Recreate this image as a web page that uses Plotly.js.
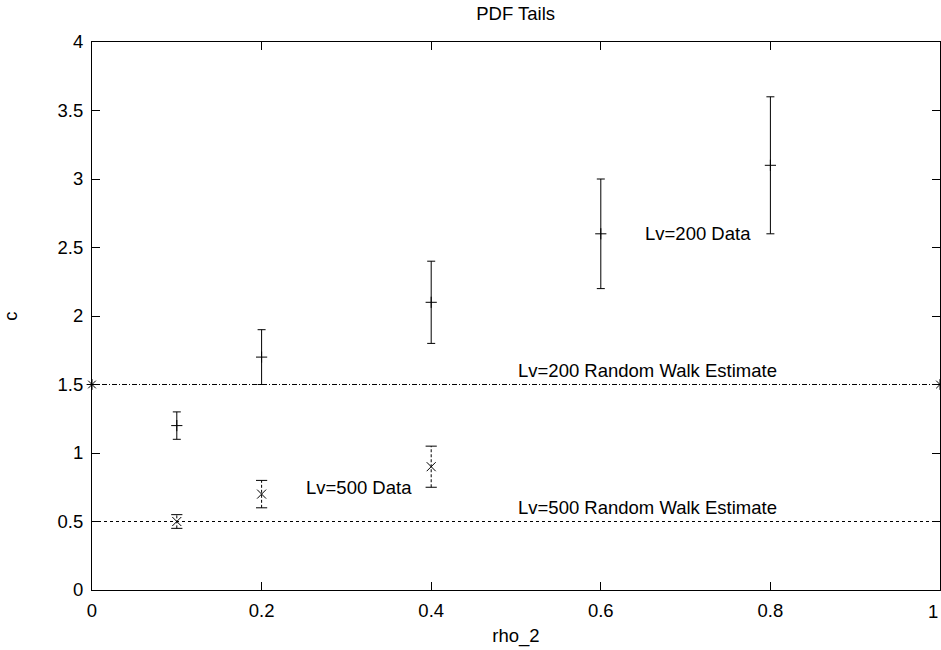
<!DOCTYPE html>
<html>
<head>
<meta charset="utf-8">
<script src="https://cdn.plot.ly/plotly-3.0.1.min.js"></script>
<style>html,body{margin:0;padding:0;background:#fff;}#chart{width:941px;height:650px;}</style>
</head>
<body>
<div id="chart"></div>
<script>
// Lv=200 data
var lv200X = [0.1, 0.2, 0.4, 0.6, 0.8];
var lv200Y = [1.2, 1.7, 2.1, 2.6, 3.1];
var lv200Err = [0.1, 0.2, 0.3, 0.4, 0.5];
// Lv=500 data
var lv500X = [0.1, 0.2, 0.4];
var lv500Y = [0.5, 0.7, 0.9];
var lv500Err = [0.05, 0.1, 0.15];
// Random walk estimates
var rwX = [0, 1];
var rw200Y = [1.5, 1.5];
var rw500Y = [0.5, 0.5];
// Tick labels
var xTickVals = [0, 0.2, 0.4, 0.6, 0.8, 1];
var xTickText = ['0', '0.2', '0.4', '0.6', '0.8', '1'];
var yTickVals = [0, 0.5, 1, 1.5, 2, 2.5, 3, 3.5, 4];
var yTickText = ['0', '0.5', '1', '1.5', '2', '2.5', '3', '3.5', '4'];
// Labels
var labelText = ["Lv=200 Data", "Lv=200 Random Walk Estimate", "Lv=500 Data", "Lv=500 Random Walk Estimate"];
var labelX = [0.65, 0.5, 0.25, 0.5];
var labelY = [2.6, 1.6, 0.75, 0.6];

var FONT = 'Liberation Sans, Arial, Helvetica, sans-serif';
var FS = 18.5;

// build dashed error bar segments for Lv=500 from data
var segX = [], segY = [], capX = [], capY = [];
for (var i = 0; i < lv500X.length; i++) {
  segX.push(lv500X[i], lv500X[i], null);
  segY.push(lv500Y[i] - lv500Err[i], lv500Y[i] + lv500Err[i], null);
  capX.push(lv500X[i], lv500X[i]);
  capY.push(lv500Y[i] - lv500Err[i], lv500Y[i] + lv500Err[i]);
}

var traces = [
  {
    x: rwX, y: rw200Y, mode: 'lines+markers', type: 'scatter',
    line: {color: '#000', width: 1, dash: '5px,2px,1px,2px'},
    marker: {symbol: 'asterisk-open', size: 9, color: '#000', line: {color: '#000', width: 1}},
    cliponaxis: false, hoverinfo: 'skip'
  },
  {
    x: rwX, y: rw500Y, mode: 'lines', type: 'scatter',
    line: {color: '#000', width: 1, dash: '3px,3px'},
    hoverinfo: 'skip'
  },
  {
    x: lv200X, y: lv200Y, mode: 'markers', type: 'scatter',
    marker: {symbol: 'cross-thin-open', size: 8, color: '#000', line: {color: '#000', width: 1}},
    error_y: {type: 'data', array: lv200Err, visible: true, color: '#000', thickness: 1, width: 4}
  },
  {
    x: segX, y: segY, mode: 'lines', type: 'scatter', connectgaps: false,
    line: {color: '#000', width: 1, dash: '3px,2px'}, hoverinfo: 'skip'
  },
  {
    x: capX, y: capY, mode: 'markers', type: 'scatter',
    marker: {symbol: 'line-ew-open', size: 8, color: '#000', line: {color: '#000', width: 1}},
    hoverinfo: 'skip'
  },
  {
    x: lv500X, y: lv500Y, mode: 'markers', type: 'scatter',
    marker: {symbol: 'x-thin-open', size: 9, color: '#000', line: {color: '#000', width: 1}}
  }
];

var annotations = labelText.map(function(t, i) {
  return {x: labelX[i], y: labelY[i], xref: 'x', yref: 'y', text: t, showarrow: false,
          xanchor: 'left', yanchor: 'middle', font: {family: FONT, size: FS, color: '#000'}};
});
// last x tick label, kept inside the page at the right edge
annotations.push({x: xTickVals[xTickVals.length - 1], y: 0, xref: 'x', yref: 'paper', yshift: -21,
  text: xTickText[xTickText.length - 1], showarrow: false, xanchor: 'right', yanchor: 'middle',
  font: {family: FONT, size: FS, color: '#000'}});

var layout = {
  width: 941, height: 650,
  margin: {l: 92, r: 1, t: 42, b: 60},
  paper_bgcolor: '#fff', plot_bgcolor: '#fff',
  showlegend: false,
  font: {family: FONT, size: FS, color: '#000'},
  title: {text: 'PDF Tails', x: 0.548, xanchor: 'center', y: 0.979, yanchor: 'middle', font: {family: FONT, size: FS, color: '#000'}},
  xaxis: {
    range: [0, 1], tickvals: xTickVals.slice(0, -1), ticktext: xTickText.slice(0, -1),
    ticks: 'inside', ticklen: 8, tickcolor: '#000', tickwidth: 1,
    showline: true, linecolor: '#000', linewidth: 1, mirror: 'allticks',
    showgrid: false, zeroline: false, ticklabelstandoff: 4,
    tickfont: {family: FONT, size: FS, color: '#000'},
    title: {text: 'rho_2', standoff: 8, font: {family: FONT, size: FS, color: '#000'}}
  },
  yaxis: {
    range: [0, 4], tickvals: yTickVals, ticktext: yTickText,
    ticks: 'inside', ticklen: 8, tickcolor: '#000', tickwidth: 1,
    showline: true, linecolor: '#000', linewidth: 1, mirror: 'allticks',
    showgrid: false, zeroline: false, ticklabelstandoff: 4,
    tickfont: {family: FONT, size: FS, color: '#000'},
    title: {text: 'c', standoff: 38, font: {family: FONT, size: FS, color: '#000'}}
  },
  annotations: annotations
};

Plotly.newPlot('chart', traces, layout, {displayModeBar: false, staticPlot: true});
</script>
</body>
</html>
